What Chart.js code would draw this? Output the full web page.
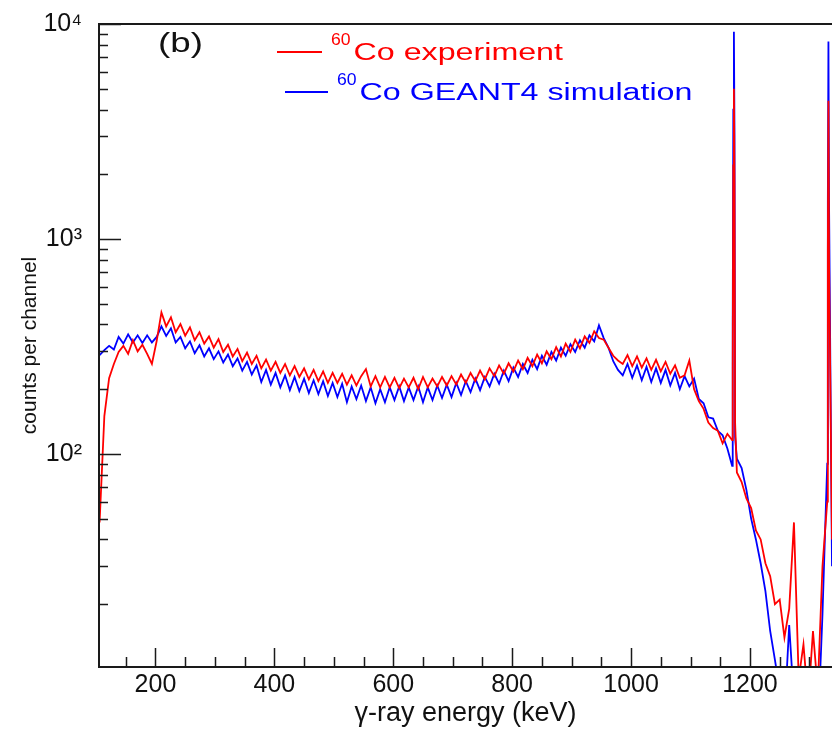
<!DOCTYPE html>
<html>
<head>
<meta charset="utf-8">
<script src="https://cdn.jsdelivr.net/npm/chart.js@4.4.0/dist/chart.umd.min.js"></script>
<style>
html, body { margin: 0; padding: 0; background: #fff; }
#wrap { width: 832px; height: 729px; }
</style>
</head>
<body>
<div id="wrap"><canvas id="myChart"></canvas></div>
<script>
// gamma-ray energy (keV) of each sampled channel
var energies = [
    106, 114, 122, 130, 138, 146, 154, 162, 170, 178,
    186, 194, 202, 210, 218, 226, 234, 242, 250, 258,
    266, 274, 282, 290, 298, 306, 314, 322, 330, 338,
    346, 354, 362, 370, 378, 386, 394, 402, 410, 418,
    426, 434, 442, 450, 458, 466, 474, 482, 490, 498,
    506, 514, 522, 530, 538, 546, 554, 562, 570, 578,
    586, 594, 602, 610, 618, 626, 634, 642, 650, 658,
    666, 674, 682, 690, 698, 706, 714, 722, 730, 738,
    746, 754, 762, 770, 778, 786, 794, 802, 810, 818,
    826, 834, 842, 850, 858, 866, 874, 882, 890, 898,
    906, 914, 922, 930, 938, 946, 954, 962, 970, 978,
    986, 994, 1002, 1010, 1018, 1026, 1034, 1042, 1050, 1058,
    1066, 1074, 1082, 1090, 1098, 1106, 1114, 1122, 1130, 1138,
    1146, 1154, 1162, 1170, 1171, 1172, 1173, 1174, 1175, 1178,
    1186, 1194, 1202, 1210, 1218, 1226, 1234, 1242, 1250, 1258,
    1266, 1274, 1282, 1290, 1298, 1306, 1314, 1322, 1330, 1331,
    1332, 1333, 1338
];

// 60Co experiment (counts per channel)
var expCounts = [
    48, 150, 225, 262, 298, 318, 292, 338, 300, 322,
    292, 262, 335, 455, 392, 432, 368, 402, 355, 388,
    338, 368, 326, 352, 312, 342, 298, 322, 284, 308,
    270, 296, 262, 286, 250, 275, 244, 268, 238, 262,
    232, 256, 228, 250, 222, 246, 218, 242, 214, 238,
    214, 236, 210, 232, 208, 230, 248, 206, 230, 204,
    228, 204, 226, 202, 224, 204, 226, 200, 228, 204,
    224, 206, 228, 208, 230, 210, 234, 214, 238, 218,
    244, 222, 250, 230, 258, 236, 264, 242, 272, 248,
    280, 256, 290, 264, 300, 276, 314, 284, 326, 298,
    340, 310, 352, 328, 372, 346, 340, 312, 286, 272,
    262, 288, 256, 284, 252, 278, 246, 274, 242, 268,
    236, 258, 226, 232, 272, 200, 176, 162, 140, 132,
    128, 112, 124, 116, 250, 2200, 5000, 1800, 140, 82,
    74, 62, 56, 44, 40, 31, 27, 20, 21, 14,
    19, 48, 9, 13, 7, 15, 8, 30, 60, 900,
    4400, 800, 40
];

// 60Co GEANT4 simulation (counts per channel)
var simCounts = [
    288, 304, 318, 306, 350, 326, 360, 330, 356, 328,
    356, 330, 350, 392, 354, 384, 330, 350, 310, 334,
    294, 320, 284, 310, 276, 300, 266, 290, 256, 278,
    244, 268, 234, 258, 216, 246, 210, 238, 204, 232,
    198, 228, 196, 224, 192, 220, 190, 218, 186, 214,
    184, 212, 174, 206, 180, 208, 176, 204, 172, 200,
    174, 204, 178, 206, 176, 204, 178, 206, 174, 204,
    178, 208, 182, 210, 184, 214, 188, 218, 194, 224,
    198, 228, 206, 236, 212, 244, 218, 252, 228, 262,
    238, 274, 248, 286, 260, 298, 272, 312, 286, 324,
    298, 338, 312, 356, 334, 396, 346, 312, 270, 246,
    232, 262, 226, 258, 220, 254, 216, 250, 214, 246,
    208, 238, 200, 230, 206, 224, 180, 172, 148, 146,
    128, 122, 106, 88, 400, 4000, 9200, 3000, 120, 95,
    86, 68, 50, 40, 31, 23, 15, 11, 8, 6,
    16, 7, 5, 6, 5, 6, 5, 18, 90, 1500,
    8300, 1500, 30
];

var xTickValues = [200, 400, 600, 800, 1000, 1200];
var yTickValues = [100, 1000, 10000];
var yTickLabels = ["10\u00B2", "10\u00B3", "10\u2074"];

var expLabel = "Co experiment";
var simLabel = "Co GEANT4 simulation";
var isotope = "60";
var panelTag = "(b)";

var xMin = 105, xMax = 1338;
var yMin = 10.2, yMax = 10000;

Chart.defaults.font.family = "'Liberation Sans', Arial, Helvetica, sans-serif";
Chart.defaults.color = "#111";

function toPoints(xs, ys) {
    var pts = [];
    for (var i = 0; i < xs.length; i++) {
        pts.push({ x: xs[i], y: ys[i] });
    }
    return pts;
}

// text drawn a bit wider than the font, like the stretched original
function wideText(ctx, text, x, y, sx) {
    ctx.save();
    ctx.translate(x, y);
    ctx.scale(sx, 1);
    ctx.fillText(text, 0, 0);
    var w = ctx.measureText(text).width * sx;
    ctx.restore();
    return w;
}

// axes frame, inward ticks, legend and panel tag (ROOT style)
var framePlugin = {
    id: "frame",
    afterDatasetsDraw: function(chart) {
        var ctx = chart.ctx;
        var a = chart.chartArea;
        var xs = chart.scales.x;
        var ys = chart.scales.y;
        ctx.save();
        ctx.strokeStyle = "#1a1a1a";
        ctx.lineWidth = 2;
        ctx.beginPath();
        ctx.moveTo(a.right + 2, a.top);
        ctx.lineTo(a.left, a.top);
        ctx.lineTo(a.left, a.bottom);
        ctx.lineTo(a.right + 2, a.bottom);
        ctx.stroke();

        ctx.lineWidth = 1.5;
        ctx.beginPath();
        // x ticks every 50 keV, majors every 200
        for (var v = 150; v <= xMax; v += 50) {
            var px = Math.round(xs.getPixelForValue(v)) + 0.5;
            var len = (v % 200 === 0) ? 19 : 10;
            ctx.moveTo(px, a.bottom);
            ctx.lineTo(px, a.bottom - len);
        }
        // y ticks: decades and 2..9
        for (var d = 10; d <= 10000; d *= 10) {
            for (var m = 1; m <= 9; m++) {
                var val = d * m;
                if (val < yMin || val > yMax) continue;
                var py = Math.round(ys.getPixelForValue(val)) + 0.5;
                var l = (m === 1) ? 22 : 9;
                ctx.moveTo(a.left, py);
                ctx.lineTo(a.left + l, py);
            }
        }
        ctx.stroke();

        // panel tag
        ctx.fillStyle = "#111";
        ctx.font = "27px 'Liberation Sans', Arial, sans-serif";
        ctx.textBaseline = "alphabetic";
        ctx.textAlign = "left";
        wideText(ctx, panelTag, 158, 52, 1.36);

        // legend
        var entries = [
            { color: "#ff0000", x0: 277, x1: 322, y: 52, tx: 331, label: expLabel },
            { color: "#0000ff", x0: 285, x1: 328, y: 92, tx: 337, label: simLabel }
        ];
        entries.forEach(function(e) {
            ctx.strokeStyle = e.color;
            ctx.lineWidth = 2;
            ctx.beginPath();
            ctx.moveTo(e.x0, e.y);
            ctx.lineTo(e.x1, e.y);
            ctx.stroke();
            ctx.fillStyle = e.color;
            ctx.font = "16px 'Liberation Sans', Arial, sans-serif";
            var w = wideText(ctx, isotope, e.tx, e.y - 7, 1.1);
            ctx.font = "23px 'Liberation Sans', Arial, sans-serif";
            wideText(ctx, e.label, e.tx + w + 3, e.y + 8, 1.4);
        });
        ctx.restore();
    }
};

var ctx = document.getElementById("myChart");
var myChart = new Chart(ctx, {
    type: "line",
    data: {
        datasets: [{
            label: expLabel,
            data: toPoints(energies, expCounts),
            borderColor: "#ff0000",
            backgroundColor: "#ff0000",
            borderWidth: 1.8,
            pointRadius: 0,
            tension: 0,
            fill: false
        },
        {
            label: simLabel,
            data: toPoints(energies, simCounts),
            borderColor: "#0000ff",
            backgroundColor: "#0000ff",
            borderWidth: 1.8,
            pointRadius: 0,
            tension: 0,
            fill: false
        }]
    },
    options: {
        responsive: true,
        maintainAspectRatio: false,
        animation: false,
        layout: { padding: { top: 15, right: 0, left: 0, bottom: 0 } },
        plugins: {
            legend: { display: false },
            tooltip: { enabled: false }
        },
        scales: {
            x: {
                type: "linear",
                min: xMin,
                max: xMax,
                afterBuildTicks: function(scale) {
                    scale.ticks = xTickValues.map(function(v) { return { value: v }; });
                },
                afterFit: function(scale) { scale.height = 62; },
                grid: { display: false },
                border: { display: false },
                ticks: {
                    autoSkip: false,
                    maxRotation: 0,
                    padding: -5,
                    font: { size: 25 },
                    color: "#111",
                    callback: function(value) { return String(value); }
                },
                title: {
                    display: true,
                    text: "\u03B3-ray energy (keV)",
                    font: { size: 27 },
                    color: "#111",
                    padding: { top: 0, bottom: -1 }
                }
            },
            y: {
                type: "logarithmic",
                min: yMin,
                max: yMax,
                afterBuildTicks: function(scale) {
                    scale.ticks = yTickValues.map(function(v) { return { value: v }; });
                },
                afterFit: function(scale) { scale.width = 99; },
                grid: { display: false },
                border: { display: false },
                ticks: {
                    autoSkip: false,
                    padding: 9,
                    font: { size: 25 },
                    color: "#111",
                    callback: function(value) {
                        var i = yTickValues.indexOf(value);
                        return i > -1 ? yTickLabels[i] : "";
                    }
                },
                title: {
                    display: true,
                    text: "counts per channel",
                    font: { size: 21 },
                    color: "#111",
                    padding: { top: 18, bottom: 0 }
                }
            }
        }
    },
    plugins: [framePlugin]
});
</script>
</body>
</html>
